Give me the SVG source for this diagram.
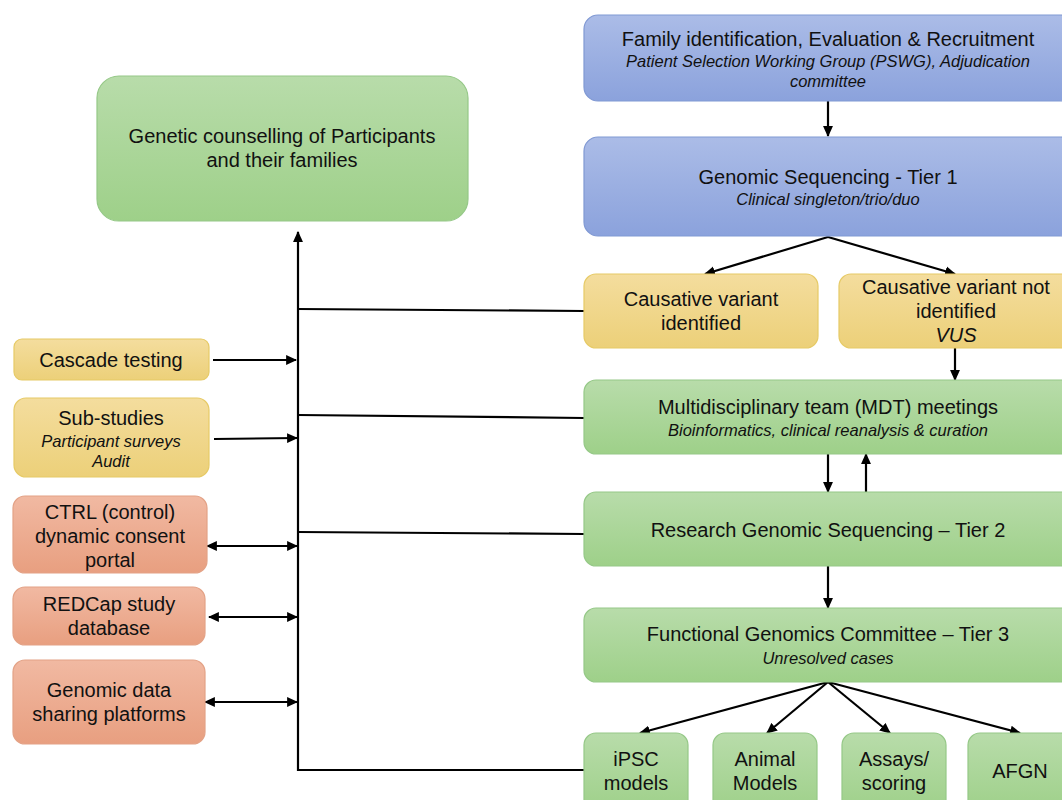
<svg xmlns="http://www.w3.org/2000/svg" width="1062" height="800" viewBox="0 0 1062 800">
<defs>
<linearGradient id="gBlue" x1="0" y1="0" x2="0" y2="1"><stop offset="0" stop-color="#abbce7"/><stop offset="1" stop-color="#8ba2dc"/></linearGradient>
<linearGradient id="gGreen" x1="0" y1="0" x2="0" y2="1"><stop offset="0" stop-color="#b8dcaa"/><stop offset="1" stop-color="#9ed089"/></linearGradient>
<linearGradient id="gYellow" x1="0" y1="0" x2="0" y2="1"><stop offset="0" stop-color="#f4dd9e"/><stop offset="1" stop-color="#ecd079"/></linearGradient>
<linearGradient id="gRed" x1="0" y1="0" x2="0" y2="1"><stop offset="0" stop-color="#f1b9a2"/><stop offset="1" stop-color="#e89f80"/></linearGradient>
<marker id="ah" viewBox="0 0 10 10" refX="9" refY="5" markerWidth="11" markerHeight="11" markerUnits="userSpaceOnUse" orient="auto-start-reverse"><path d="M0,0.5 L10,5 L0,9.5 Z" fill="#000"/></marker>
</defs>
<style>
.blue{fill:url(#gBlue);stroke:#8099d3;stroke-width:1.2}
.green{fill:url(#gGreen);stroke:#95c887;stroke-width:1.2}
.yellow{fill:url(#gYellow);stroke:#e6ca66;stroke-width:1.2}
.red{fill:url(#gRed);stroke:#e3a286;stroke-width:1.2}
text{font-family:"Liberation Sans",Arial,sans-serif;fill:#111;text-anchor:middle}
.m{font-size:20px}
.i{font-size:16.5px;font-style:italic}
.c line,.c path{stroke:#000;stroke-width:2.2;fill:none}
</style>
<rect width="1062" height="800" fill="#fff"/>
<g class="c">
<line x1="828" y1="101" x2="828" y2="136" marker-end="url(#ah)"/>
<line x1="828" y1="237" x2="705" y2="274" marker-end="url(#ah)"/>
<line x1="828" y1="237" x2="955" y2="274" marker-end="url(#ah)"/>
<line x1="955" y1="348" x2="955" y2="380" marker-end="url(#ah)"/>
<line x1="828" y1="454" x2="828" y2="492" marker-end="url(#ah)"/>
<line x1="866" y1="492" x2="866" y2="454" marker-end="url(#ah)"/>
<line x1="828" y1="566" x2="828" y2="608" marker-end="url(#ah)"/>
<line x1="828" y1="682" x2="640" y2="733" marker-end="url(#ah)"/>
<line x1="828" y1="682" x2="767" y2="733" marker-end="url(#ah)"/>
<line x1="828" y1="682" x2="890" y2="733" marker-end="url(#ah)"/>
<line x1="828" y1="682" x2="1020" y2="733" marker-end="url(#ah)"/>
<line x1="298" y1="771" x2="298" y2="232" marker-end="url(#ah)"/>
<line x1="298" y1="309" x2="584" y2="311"/>
<line x1="298" y1="415" x2="584" y2="418"/>
<line x1="298" y1="532" x2="584" y2="534"/>
<line x1="297" y1="770" x2="584" y2="770"/>
<line x1="213" y1="360" x2="296" y2="360" marker-end="url(#ah)"/>
<line x1="214" y1="439" x2="297" y2="438" marker-end="url(#ah)"/>
<line x1="207" y1="546" x2="297" y2="546" marker-start="url(#ah)" marker-end="url(#ah)"/>
<line x1="209" y1="617" x2="297" y2="617" marker-start="url(#ah)" marker-end="url(#ah)"/>
<line x1="205" y1="702" x2="297" y2="702" marker-start="url(#ah)" marker-end="url(#ah)"/>
</g>
<g id="family"><rect class="blue" x="584" y="15" width="490" height="86" rx="14"/>
<text class="m" x="828" y="46">Family identification, Evaluation &amp; Recruitment</text>
<text class="i" x="828" y="67">Patient Selection Working Group (PSWG), Adjudication</text>
<text class="i" x="828" y="87">committee</text></g>
<g id="tier1"><rect class="blue" x="584" y="137" width="490" height="99" rx="14"/>
<text class="m" x="828" y="184">Genomic Sequencing - Tier 1</text>
<text class="i" x="828" y="205">Clinical singleton/trio/duo</text></g>
<g id="causative"><rect class="yellow" x="584" y="274" width="234" height="74" rx="12"/>
<text class="m" x="701" y="306">Causative variant</text>
<text class="m" x="701" y="330">identified</text></g>
<g id="notidentified"><rect class="yellow" x="839" y="274" width="235" height="74" rx="12"/>
<text class="m" x="956" y="294">Causative variant not</text>
<text class="m" x="956" y="318">identified</text>
<text class="m" x="956" y="342" font-style="italic">VUS</text></g>
<g id="mdt"><rect class="green" x="584" y="380" width="490" height="74" rx="12"/>
<text class="m" x="828" y="414">Multidisciplinary team (MDT) meetings</text>
<text class="i" x="828" y="436">Bioinformatics, clinical reanalysis &amp; curation</text></g>
<g id="tier2"><rect class="green" x="584" y="492" width="490" height="74" rx="12"/>
<text class="m" x="828" y="537">Research Genomic Sequencing – Tier 2</text></g>
<g id="tier3"><rect class="green" x="584" y="608" width="490" height="74" rx="12"/>
<text class="m" x="828" y="641">Functional Genomics Committee – Tier 3</text>
<text class="i" x="828" y="664">Unresolved cases</text></g>
<g id="ipsc"><rect class="green" x="584" y="733" width="104" height="80" rx="12"/>
<text class="m" x="636" y="766">iPSC</text><text class="m" x="636" y="790">models</text></g>
<g id="animal"><rect class="green" x="713" y="733" width="104" height="80" rx="12"/>
<text class="m" x="765" y="766">Animal</text><text class="m" x="765" y="790">Models</text></g>
<g id="assays"><rect class="green" x="842" y="733" width="104" height="80" rx="12"/>
<text class="m" x="894" y="766">Assays/</text><text class="m" x="894" y="790">scoring</text></g>
<g id="afgn"><rect class="green" x="968" y="733" width="104" height="80" rx="12"/>
<text class="m" x="1020" y="778">AFGN</text></g>
<g id="counselling"><rect class="green" x="97" y="76" width="371" height="145" rx="22"/>
<text class="m" x="282" y="143">Genetic counselling of Participants</text>
<text class="m" x="282" y="167">and their families</text></g>
<g id="cascade"><rect class="yellow" x="14" y="339" width="195" height="41" rx="8"/>
<text class="m" x="111" y="367">Cascade testing</text></g>
<g id="substudies"><rect class="yellow" x="14" y="398" width="195" height="79" rx="12"/>
<text class="m" x="111" y="425">Sub-studies</text>
<text class="i" x="111" y="447">Participant surveys</text>
<text class="i" x="111" y="467">Audit</text></g>
<g id="ctrl"><rect class="red" x="13" y="496" width="194" height="77" rx="12"/>
<text class="m" x="110" y="519">CTRL (control)</text>
<text class="m" x="110" y="543">dynamic consent</text>
<text class="m" x="110" y="567">portal</text></g>
<g id="redcap"><rect class="red" x="13" y="587" width="192" height="58" rx="12"/>
<text class="m" x="109" y="611">REDCap study</text>
<text class="m" x="109" y="635">database</text></g>
<g id="sharing"><rect class="red" x="13" y="660" width="192" height="84" rx="12"/>
<text class="m" x="109" y="697">Genomic data</text>
<text class="m" x="109" y="721">sharing platforms</text></g>
</svg>
